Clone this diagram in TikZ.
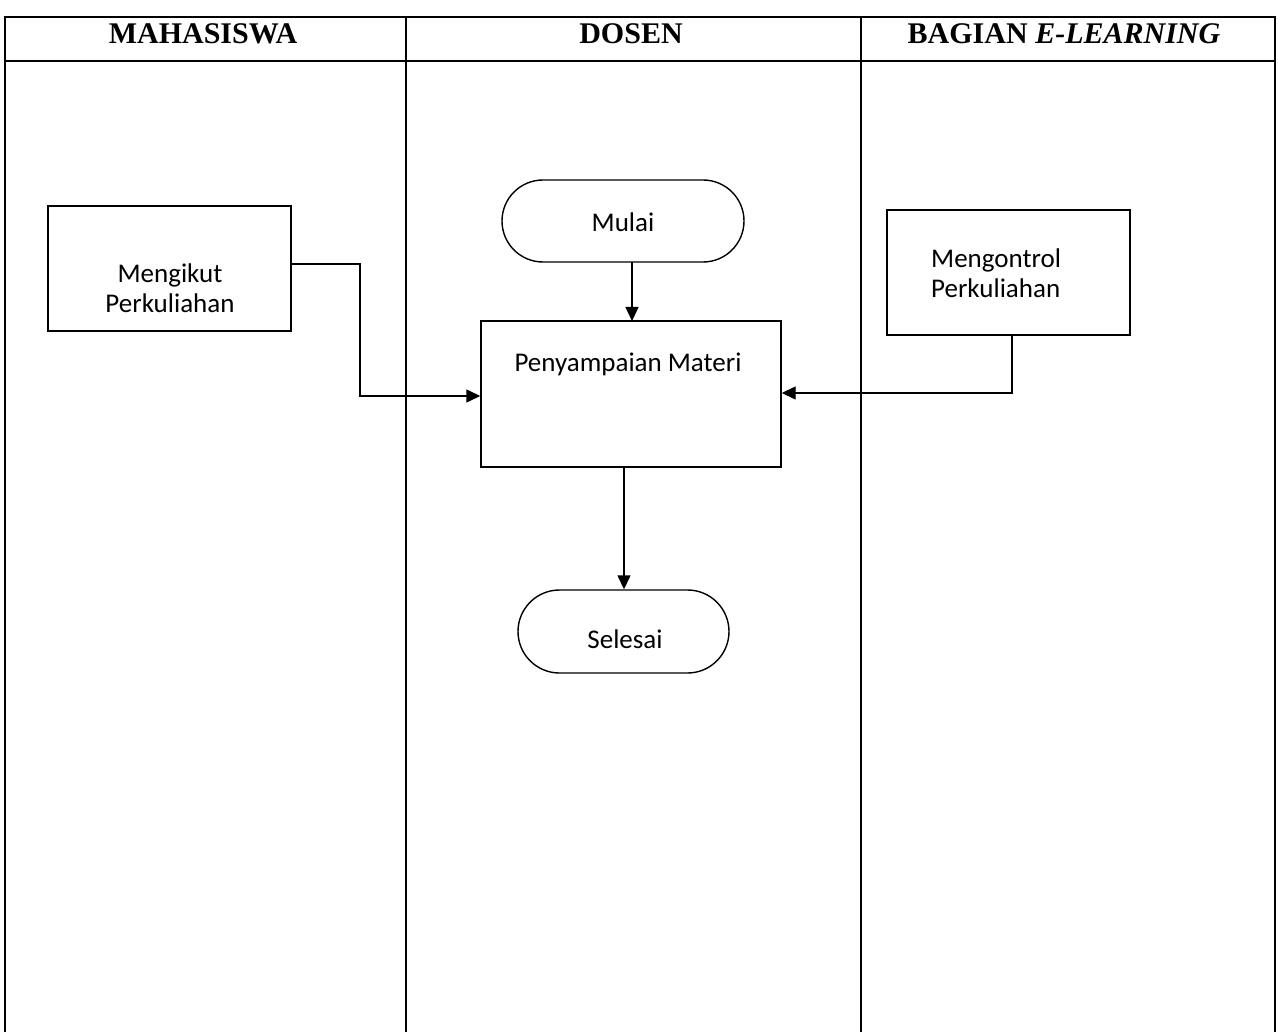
\documentclass[tikz,border=0pt]{standalone}
\usepackage{fontspec}
\setmainfont{Liberation Serif}
\newfontfamily\boxfont{Carlito}
\usetikzlibrary{arrows.meta,shapes.misc}
\begin{document}
\begin{tikzpicture}[x=1pt,y=-1pt,
  lane/.style={line width=2pt},
  proc/.style={draw,line width=1.4pt,rectangle,inner sep=0pt},
  term/.style={draw,line width=1.4pt,rounded rectangle,inner sep=0pt},
  lbl/.style={font=\boxfont\fontsize{27}{30}\selectfont,align=center,inner sep=0pt,anchor=base},
  hdr/.style={font=\bfseries\fontsize{30}{34}\selectfont,inner sep=0pt,anchor=base},
  conn/.style={line width=1.4pt,-{Triangle[length=14pt,width=13pt]}}]
\useasboundingbox (0,0) rectangle (1278,1032);
% swimlane table
\draw[lane] (5,1032) -- (5,17) -- (1275,17) -- (1275,1032);
\draw[lane] (5,61) -- (1275,61);
\draw[lane] (406,17) -- (406,1032);
\draw[lane] (861,17) -- (861,1032);
\node[hdr] (h1) at (203,44) {MAHASISWA};
\node[hdr] (h2) at (631,44) {DOSEN};
\node[hdr] (h3) at (1064,44) {BAGIAN \textit{E-LEARNING}};
% nodes
\node[proc,minimum width=243pt,minimum height=125pt] (ikut) at (169.5,268.5) {};
\node[lbl] (ikutT) at (170,313) {Mengikut\\Perkuliahan};
\node[term,minimum width=242pt,minimum height=82pt] (mulai) at (623,221) {};
\node[lbl] (mulaiT) at (623,232) {Mulai};
\node[proc,minimum width=300pt,minimum height=146pt] (materi) at (631,394) {};
\node[lbl] (materiT) at (628,372) {Penyampaian Materi};
\node[proc,minimum width=243pt,minimum height=125pt] (kontrol) at (1008.5,272.5) {};
\node[lbl,align=left,anchor=base west] (kontrolT) at (931,298) {Mengontrol\\Perkuliahan};
\node[term,minimum width=211pt,minimum height=83pt] (selesai) at (623.5,631.5) {};
\node[lbl] (selesaiT) at (625,648) {Selesai};
% connectors
\draw[conn] (ikut.east |- 0,264) -- (360,264) -- (360,396) -- (materi.west |- 0,396);
\draw[conn] (632,262) -- (632,321);
\draw[conn] (1012,335) -- (1012,393) -- (materi.east |- 0,393);
\draw[conn] (624,467) -- (selesai.north -| 624,0);
\end{tikzpicture}
\end{document}
